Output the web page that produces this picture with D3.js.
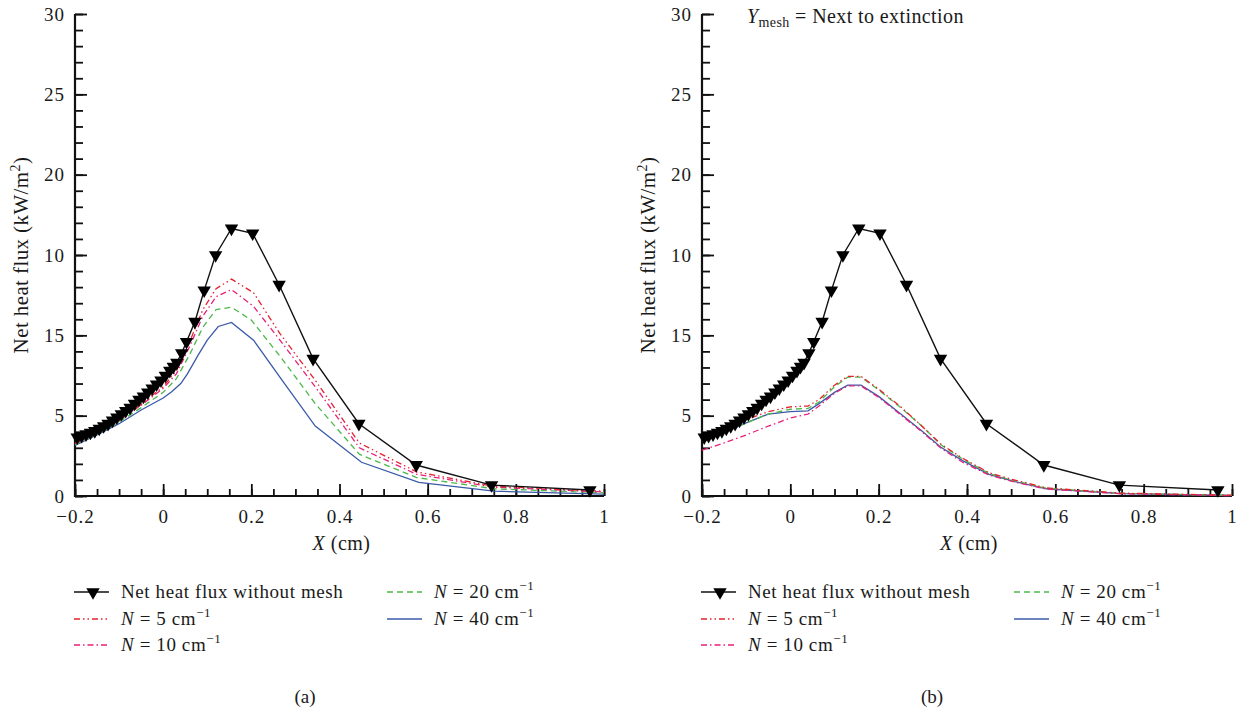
<!DOCTYPE html>
<html>
<head>
<meta charset="utf-8">
<script src="https://cdn.jsdelivr.net/npm/d3@7"></script>
<style>
  body { margin: 0; background: #fff; }
  text { font-family: "Liberation Serif", "Times New Roman", serif; fill: #1a1a1a; }
</style>
</head>
<body>
<svg id="chart" width="1241" height="712"></svg>
<script>
// net heat flux without mesh (same in both panels)
const noMesh = [
  [-0.195, 3.65], [-0.185, 3.75], [-0.175, 3.85], [-0.165, 3.95], [-0.155, 4.05],
  [-0.145, 4.2], [-0.135, 4.35], [-0.125, 4.5], [-0.115, 4.7], [-0.105, 4.9],
  [-0.095, 5.1], [-0.085, 5.3], [-0.075, 5.5], [-0.065, 5.75], [-0.055, 6.0],
  [-0.045, 6.2], [-0.035, 6.45], [-0.025, 6.7], [-0.015, 6.95], [-0.005, 7.2],
  [0.005, 7.5], [0.015, 7.8], [0.023, 8.05], [0.031, 8.3], [0.042, 8.9],
  [0.053, 9.6], [0.072, 10.85], [0.093, 12.8], [0.119, 15.0], [0.155, 16.65],
  [0.203, 16.35], [0.263, 13.15], [0.34, 8.55], [0.444, 4.5], [0.574, 1.93],
  [0.745, 0.68], [0.968, 0.37]
];

// panel (a)
const aN5 = [[-0.2, 3.3], [-0.15, 3.95], [-0.1, 4.75], [-0.05, 5.7], [0, 6.8], [0.03, 7.8], [0.06, 9.6],
  [0.09, 11.6], [0.12, 12.9], [0.155, 13.5], [0.205, 12.65], [0.265, 10.1], [0.345, 7.2],
  [0.445, 3.3], [0.575, 1.5], [0.75, 0.6], [1, 0.3]];
const aN10 = [[-0.2, 3.25], [-0.15, 3.9], [-0.1, 4.7], [-0.05, 5.65], [0, 6.7], [0.03, 7.6], [0.06, 9.3],
  [0.09, 11.2], [0.12, 12.4], [0.155, 12.85], [0.205, 11.8], [0.265, 9.7], [0.345, 6.8],
  [0.445, 3.0], [0.575, 1.35], [0.75, 0.55], [1, 0.25]];
const aN20 = [[-0.2, 3.2], [-0.15, 3.85], [-0.1, 4.6], [-0.05, 5.5], [0, 6.45], [0.03, 7.3], [0.06, 8.8],
  [0.09, 10.5], [0.12, 11.6], [0.155, 11.75], [0.2, 10.95], [0.265, 8.7], [0.345, 5.75],
  [0.445, 2.6], [0.575, 1.15], [0.75, 0.45], [1, 0.2]];
const aN40 = [[-0.2, 3.15], [-0.15, 3.8], [-0.1, 4.5], [-0.05, 5.35], [0, 6.1], [0.02, 6.5], [0.04, 7.0],
  [0.055, 7.6], [0.08, 8.8], [0.1, 9.7], [0.125, 10.55], [0.155, 10.8], [0.205, 9.7],
  [0.27, 7.2], [0.345, 4.35], [0.45, 2.1], [0.58, 0.85], [0.75, 0.3], [1, 0.12]];

// panel (b)
const bN5 = [[-0.2, 3.55], [-0.15, 4.1], [-0.1, 4.75], [-0.05, 5.25], [0, 5.55], [0.04, 5.6], [0.065, 6.0],
  [0.1, 6.9], [0.13, 7.45], [0.16, 7.45], [0.2, 6.65], [0.25, 5.55], [0.3, 4.3], [0.34, 3.25],
  [0.39, 2.35], [0.45, 1.45], [0.5, 1.05], [0.58, 0.5], [0.75, 0.18], [1, 0.05]];
const bN10 = [[-0.2, 2.85], [-0.15, 3.3], [-0.1, 3.8], [-0.05, 4.35], [0, 4.85], [0.04, 5.1], [0.065, 5.6],
  [0.1, 6.4], [0.13, 6.85], [0.16, 6.85], [0.2, 6.15], [0.25, 5.05], [0.3, 3.95], [0.34, 3.0],
  [0.39, 2.1], [0.45, 1.3], [0.5, 0.92], [0.58, 0.43], [0.75, 0.14], [1, 0.02]];
const bN20 = [[-0.2, 3.4], [-0.15, 3.95], [-0.1, 4.55], [-0.05, 5.1], [0, 5.4], [0.04, 5.45], [0.065, 5.85],
  [0.1, 6.8], [0.13, 7.4], [0.16, 7.4], [0.2, 6.6], [0.25, 5.5], [0.3, 4.3], [0.34, 3.2],
  [0.39, 2.3], [0.45, 1.4], [0.5, 1.0], [0.58, 0.48], [0.75, 0.16], [1, 0.04]];
const bN40 = [[-0.2, 3.4], [-0.15, 3.95], [-0.1, 4.55], [-0.05, 5.1], [0, 5.25], [0.04, 5.3], [0.065, 5.75],
  [0.1, 6.45], [0.13, 6.9], [0.16, 6.9], [0.2, 6.2], [0.25, 5.1], [0.3, 4.0], [0.34, 3.05],
  [0.39, 2.2], [0.45, 1.35], [0.5, 0.95], [0.58, 0.45], [0.75, 0.15], [1, 0.03]];

const xTicks = [-0.2, 0, 0.2, 0.4, 0.6, 0.8, 1];
const xTickLabels = ["\u22120.2", "0", "0.2", "0.4", "0.6", "0.8", "1"];
const yTicks = [0, 5, 10, 15, 20, 25, 30];
const yTickLabels = ["0", "5", "15", "10", "20", "25", "30"];   // as printed in the figure
const meshValues = [5, 10, 20, 40];

const styles = {
  noMesh: { color: "#111", dash: null },
  N5: { color: "#e3232d", dash: "6,3,1.5,3,1.5,3" },
  N10: { color: "#e6217a", dash: "6,3,1.5,3" },
  N20: { color: "#4db84a", dash: "6,4" },
  N40: { color: "#3a5aa8", dash: null }
};

const svg = d3.select("#chart");
const plotTop = 14, plotBottom = 496;

function drawPanel(left, right, curves, caption) {
  const g = svg.append("g");
  const x = d3.scaleLinear().domain([-0.2, 1]).range([left, right]);
  const y = d3.scaleLinear().domain([0, 30]).range([plotBottom, plotTop]);

  // minor ticks
  g.append("g")
    .attr("transform", `translate(0,${plotBottom})`)
    .call(d3.axisBottom(x).tickValues(d3.range(-0.2, 1.001, 0.05)).tickSize(-7).tickFormat(""))
    .call(a => a.select(".domain").remove())
    .call(a => a.selectAll("line").attr("stroke", "#111").attr("stroke-width", 1.8));
  g.append("g")
    .attr("transform", `translate(${left},0)`)
    .call(d3.axisLeft(y).tickValues(d3.range(0, 30.001, 1)).tickSize(-8).tickFormat(""))
    .call(a => a.select(".domain").remove())
    .call(a => a.selectAll("line").attr("stroke", "#111").attr("stroke-width", 1.8));

  // major ticks + labels
  g.append("g")
    .attr("transform", `translate(0,${plotBottom})`)
    .call(d3.axisBottom(x).tickValues(xTicks).tickSize(-12).tickPadding(14)
      .tickFormat((d, i) => xTickLabels[i]))
    .call(a => a.select(".domain").remove())
    .call(a => a.selectAll("line").attr("stroke", "#111").attr("stroke-width", 1.8))
    .call(a => a.selectAll("text").attr("font-size", 19).attr("letter-spacing", 1)
      .attr("fill", "#1a1a1a").attr("font-family", "Liberation Serif, serif"));
  g.append("g")
    .attr("transform", `translate(${left},0)`)
    .call(d3.axisLeft(y).tickValues(yTicks).tickSize(-12).tickPadding(10)
      .tickFormat((d, i) => yTickLabels[i]))
    .call(a => a.select(".domain").remove())
    .call(a => a.selectAll("line").attr("stroke", "#111").attr("stroke-width", 1.8))
    .call(a => a.selectAll("text").attr("font-size", 19).attr("letter-spacing", 1)
      .attr("fill", "#1a1a1a").attr("font-family", "Liberation Serif, serif"));

  // axis lines
  g.append("path")
    .attr("d", `M${left},${plotTop}V${plotBottom}H${right}`)
    .attr("fill", "none").attr("stroke", "#111").attr("stroke-width", 2.2);

  const line = d3.line().x(d => x(d[0])).y(d => y(d[1]));

  // mesh curves, drawn N40 first so red lies on top
  ["N40", "N20", "N10", "N5"].forEach(k => {
    g.append("path")
      .datum(curves[k])
      .attr("d", line)
      .attr("fill", "none")
      .attr("stroke", styles[k].color)
      .attr("stroke-width", 1.3)
      .attr("stroke-dasharray", styles[k].dash);
  });

  g.append("path")
    .datum(noMesh)
    .attr("d", line)
    .attr("fill", "none")
    .attr("stroke", "#111")
    .attr("stroke-width", 1.4);

  const tri = d3.symbol(d3.symbolTriangle, 78);
  g.selectAll(".mk")
    .data(noMesh)
    .join("path")
    .attr("d", tri)
    .attr("transform", d => `translate(${x(d[0])},${y(d[1])}) rotate(180)`)
    .attr("fill", "#000");

  // y label
  const yl = g.append("text")
    .attr("transform", `translate(${left - 47},${255}) rotate(-90)`)
    .attr("text-anchor", "middle")
    .attr("font-size", 21)
    .attr("letter-spacing", 0.4);
  yl.append("tspan").text("Net heat flux (kW/m");
  yl.append("tspan").attr("font-size", 14).attr("dy", -8).text("2");
  yl.append("tspan").attr("dy", 8).text(")");

  // x label
  const xl = g.append("text")
    .attr("x", (left + right) / 2 + 2)
    .attr("y", 550)
    .attr("text-anchor", "middle")
    .attr("font-size", 20)
    .attr("letter-spacing", 0.5);
  xl.append("tspan").attr("font-style", "italic").text("X");
  xl.append("tspan").text(" (cm)");

  // legend
  const rows = [
    { key: "noMesh", col: 0, row: 0 },
    { key: "N5", col: 0, row: 1, n: meshValues[0] },
    { key: "N10", col: 0, row: 2, n: meshValues[1] },
    { key: "N20", col: 1, row: 0, n: meshValues[2] },
    { key: "N40", col: 1, row: 1, n: meshValues[3] }
  ];
  const colX = [left, left + 312];
  const rowY = [592, 619, 645];
  rows.forEach(r => {
    const lx = colX[r.col] - (r.col === 0 ? 1 : 0), ly = rowY[r.row];
    g.append("line")
      .attr("x1", lx).attr("x2", lx + 35)
      .attr("y1", ly).attr("y2", ly)
      .attr("stroke", styles[r.key].color)
      .attr("stroke-width", r.key === "noMesh" ? 1.6 : 1.3)
      .attr("stroke-dasharray", styles[r.key].dash);
    if (r.key === "noMesh") {
      g.append("path").attr("d", tri)
        .attr("transform", `translate(${lx + 19},${ly}) rotate(180)`)
        .attr("fill", "#000");
    }
    const t = g.append("text")
      .attr("x", lx + 47)
      .attr("y", ly + 6)
      .attr("font-size", 19)
      .attr("letter-spacing", 0.6);
    if (r.key === "noMesh") {
      t.text("Net heat flux without mesh");
    } else {
      t.append("tspan").attr("font-style", "italic").text("N");
      t.append("tspan").text(` = ${r.n} cm`);
      t.append("tspan").attr("font-size", 13).attr("dy", -8).text("\u22121");
    }
  });

  svg.append("text")
    .attr("x", caption.x)
    .attr("y", 703)
    .attr("text-anchor", "middle")
    .attr("font-size", 19)
    .text(caption.text);

  return g;
}

drawPanel(75, 604, { N5: aN5, N10: aN10, N20: aN20, N40: aN40 }, { x: 305, text: "(a)" });
const gb = drawPanel(702, 1232, { N5: bN5, N10: bN10, N20: bN20, N40: bN40 }, { x: 932, text: "(b)" });

// annotation in panel (b)
const note = gb.append("text")
  .attr("x", 747)
  .attr("y", 23)
  .attr("font-size", 20)
  .attr("letter-spacing", 0.4);
note.append("tspan").attr("font-style", "italic").text("Y");
note.append("tspan").attr("font-size", 14).attr("dy", 4).text("mesh");
note.append("tspan").attr("dy", -4).text(" = Next to extinction");
</script>
</body>
</html>
